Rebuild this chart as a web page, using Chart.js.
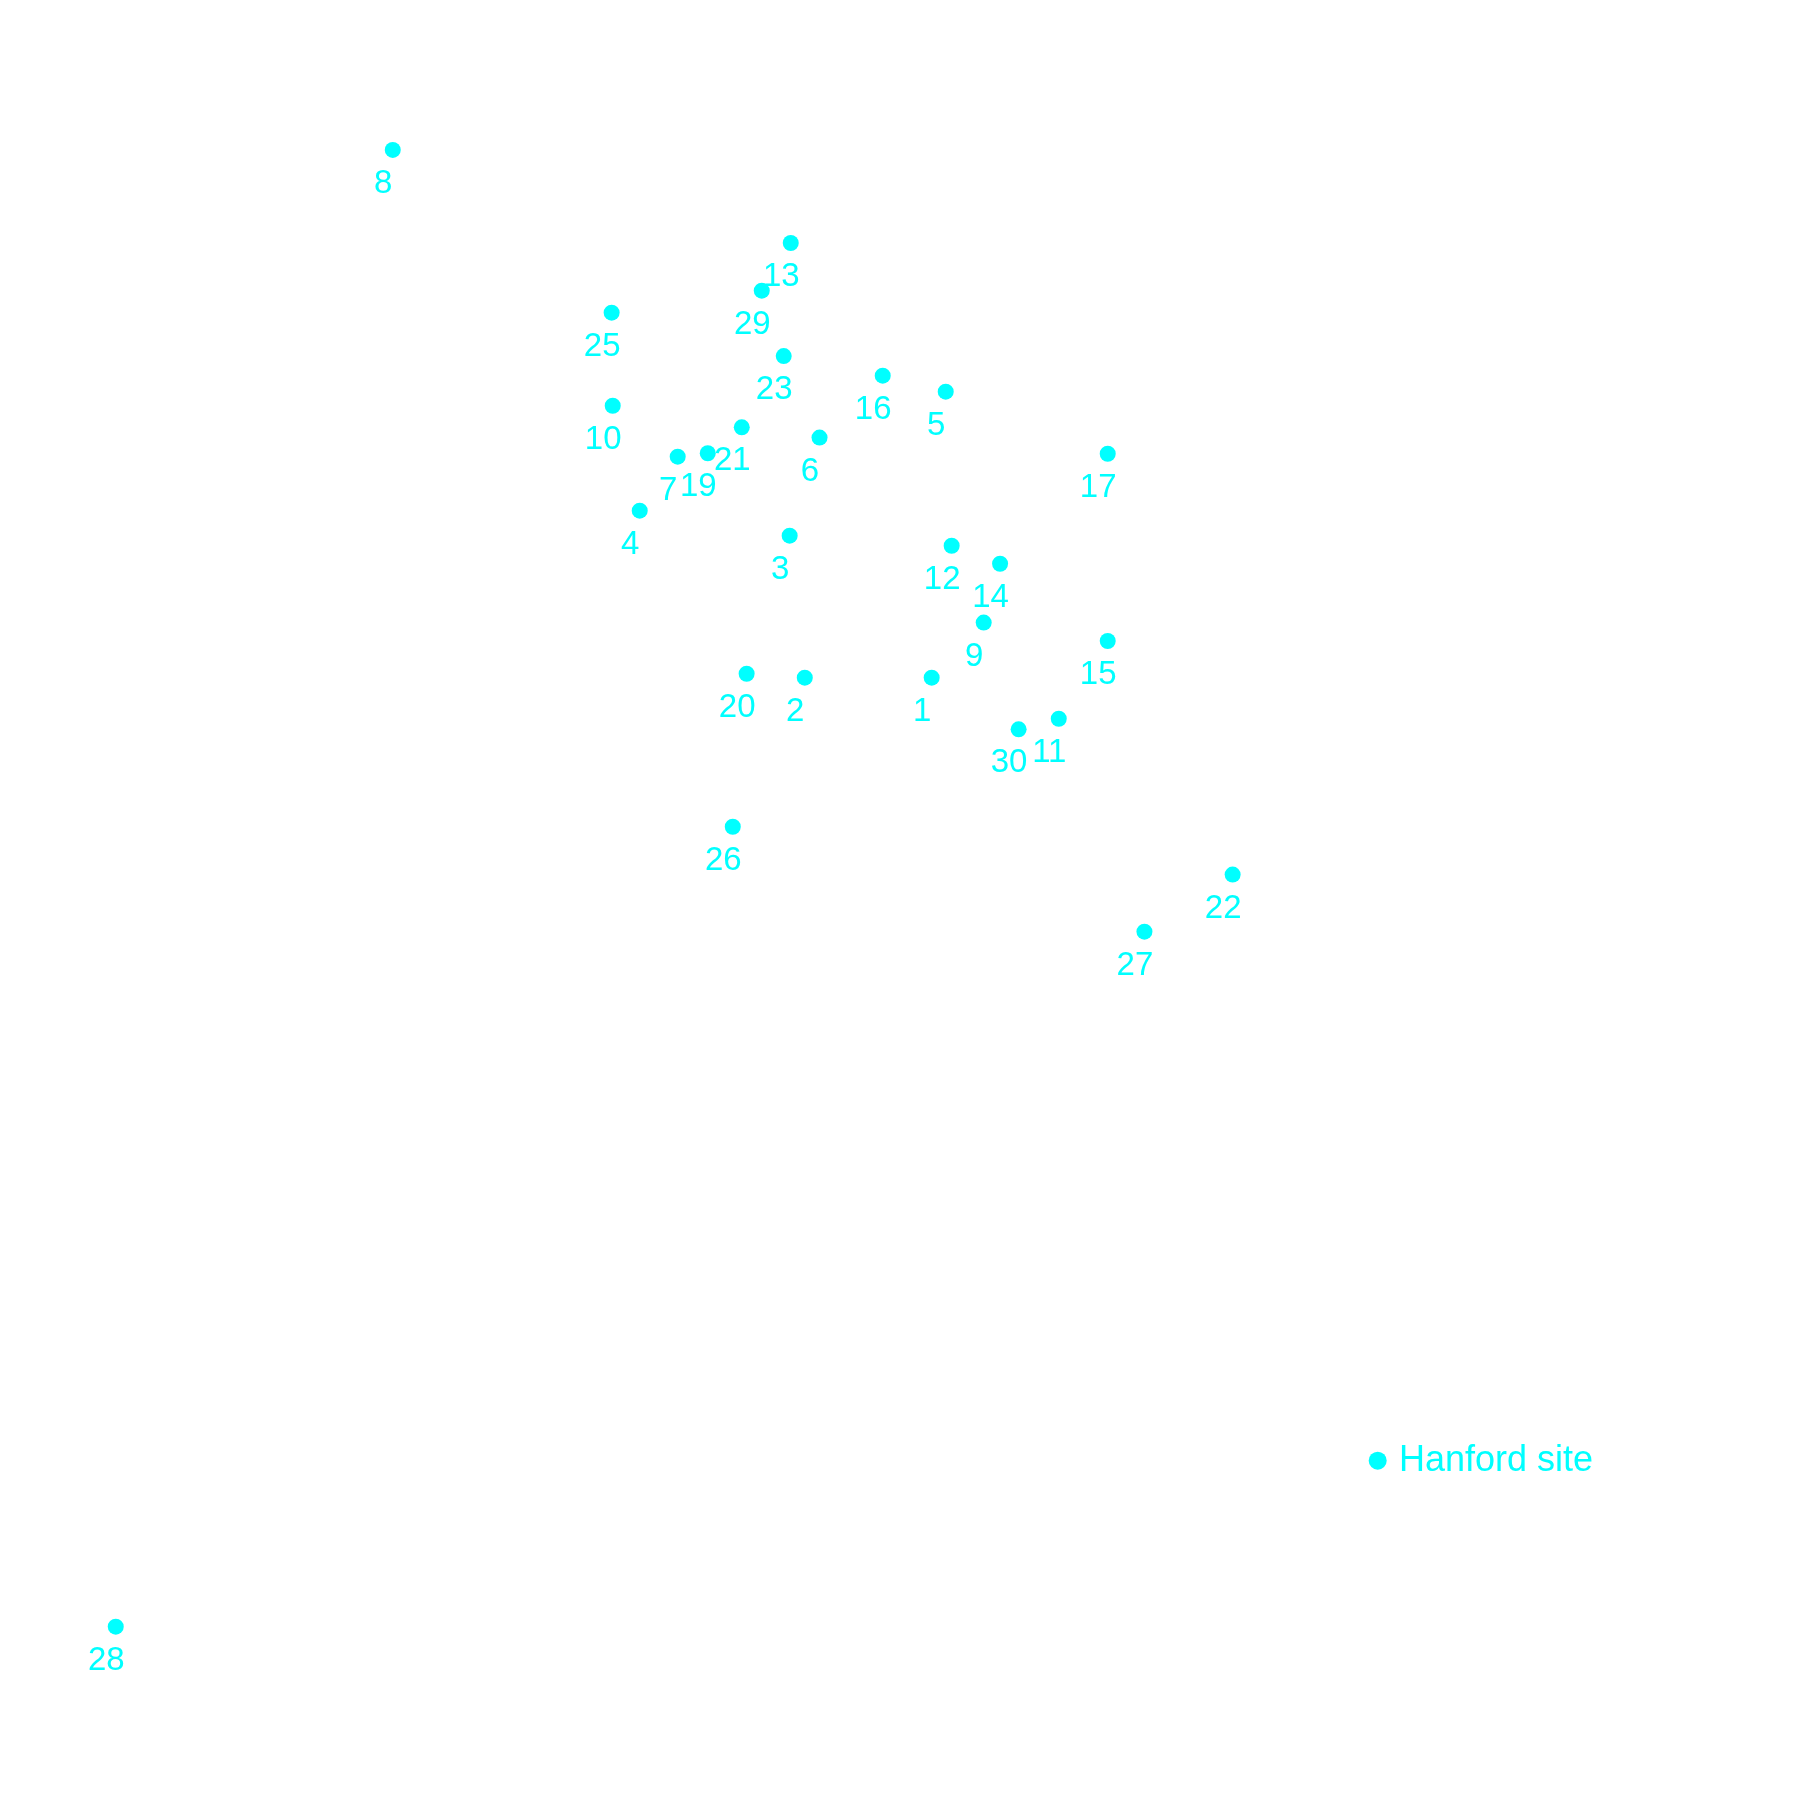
<!DOCTYPE html>
<html>
<head>
<meta charset="utf-8">
<script src="https://cdn.jsdelivr.net/npm/chart.js@4/dist/chart.umd.min.js"></script>
<style>
  html, body { margin: 0; padding: 0; background: #ffffff; }
  #wrap { width: 1800px; height: 1800px; position: relative; }
</style>
</head>
<body>
<div id="wrap"><canvas id="c"></canvas></div>
<script>
// Site identifiers (18 and 24 are absent in the figure)
const siteLabels = ["1","2","3","4","5","6","7","8","9","10","11","12","13","14","15","16","17","19","20","21","22","23","25","26","27","28","29","30"];
// Easting-like coordinate (plot units 0-100)
const xValues = [51.76,44.71,43.87,35.54,52.54,45.53,37.65,21.82,54.65,34.04,58.82,52.87,43.93,55.56,61.54,49.04,61.54,39.32,41.48,41.21,68.48,43.54,33.98,40.71,63.58,6.43,42.32,56.59];
// Northing-like coordinate (plot units 0-100)
const yValues = [62.35,62.35,70.24,71.63,78.24,75.69,74.63,91.67,65.41,77.46,60.07,69.68,86.50,68.68,64.39,79.13,74.79,74.82,62.57,76.26,51.41,80.22,82.63,54.07,48.24,9.63,83.85,59.48];
const seriesName = "Hanford site";
const axisMin = 0, axisMax = 100;

const colour = "#00FFFF";
const labelFont = "33px 'Liberation Sans', Arial, sans-serif";
const legendFont = "36px 'Liberation Sans', Arial, sans-serif";

const points = xValues.map((x, i) => ({ x: x, y: yValues[i] }));

const labelPlugin = {
  id: 'pointLabels',
  afterDatasetsDraw(chart) {
    const ctx = chart.ctx;
    const xs = chart.scales.x, ys = chart.scales.y;
    ctx.save();
    ctx.fillStyle = colour;
    ctx.font = labelFont;
    ctx.textAlign = 'center';
    ctx.textBaseline = 'alphabetic';
    siteLabels.forEach((lab, i) => {
      const px = xs.getPixelForValue(xValues[i]);
      const py = ys.getPixelForValue(yValues[i]);
      ctx.fillText(lab, px - 9.5, py + 43);
    });
    // legend
    const lx = 1377.7, ly = 1460.7;
    ctx.beginPath();
    ctx.arc(lx, ly, 9, 0, Math.PI * 2);
    ctx.fill();
    ctx.font = legendFont;
    ctx.textAlign = 'left';
    ctx.fillText(chart.data.datasets[0].label, 1399, 1470.7);
    ctx.restore();
  }
};

new Chart(document.getElementById('c'), {
  type: 'scatter',
  data: {
    datasets: [{
      label: seriesName,
      data: points,
      backgroundColor: colour,
      borderColor: colour,
      borderWidth: 0,
      pointRadius: 8,
      pointHoverRadius: 8
    }]
  },
  options: {
    responsive: true,
    maintainAspectRatio: false,
    animation: false,
    layout: { padding: 0, autoPadding: false },
    plugins: { legend: { display: false }, tooltip: { enabled: false } },
    scales: {
      x: { type: 'linear', min: axisMin, max: axisMax, display: false },
      y: { type: 'linear', min: axisMin, max: axisMax, display: false }
    }
  },
  plugins: [labelPlugin]
});
</script>
</body>
</html>
